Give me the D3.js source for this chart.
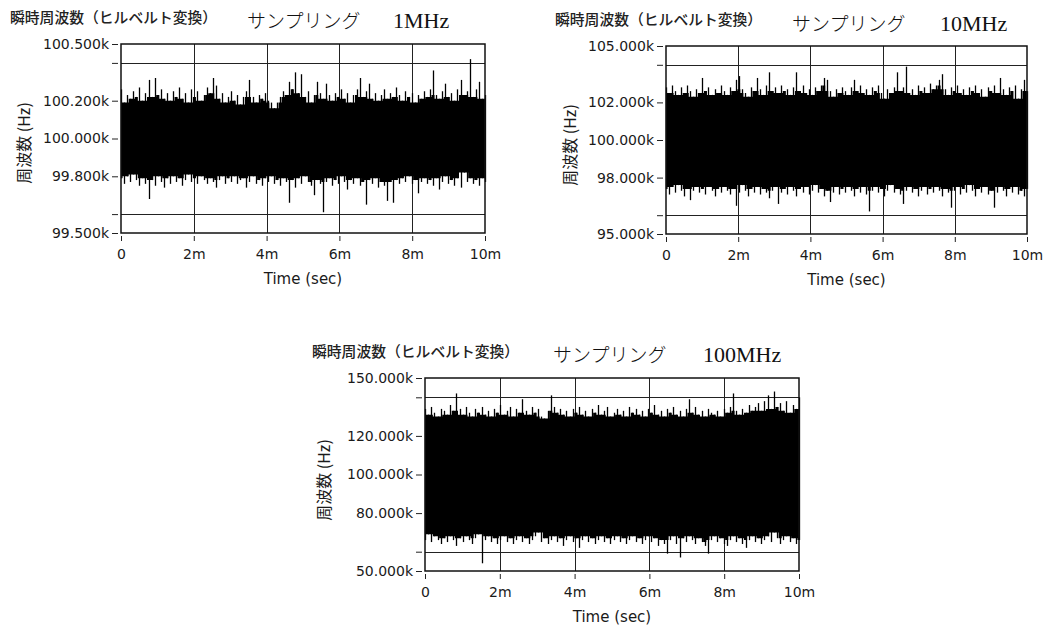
<!DOCTYPE html>
<html>
<head>
<meta charset="utf-8">
<script src="https://cdn.jsdelivr.net/npm/d3@7"></script>
<style>
  body { margin: 0; background: #fff; }
  svg { display: block; }
  .tick text { font-family: "DejaVu Sans", sans-serif; font-size: 14px; fill: #1a1a1a; }
  .tick line { stroke: #222; }
</style>
</head>
<body>
<svg id="chart" width="1046" height="635"></svg>
<script>
// time axis (ms)
const timeDomain = [0, 10];
const timeTicks = [0, 2, 4, 6, 8, 10];
const timeLabels = ["0", "2m", "4m", "6m", "8m", "10m"];
const timeGrid = [2, 4, 6, 8];

// 1MHz sampling : max / min envelope per bin (kHz)
const hi1 = [100.26,100.19,100.23,100.21,100.25,100.22,100.27,100.20,100.24,100.31,100.22,100.32,100.23,100.26,100.21,100.24,100.20,100.25,100.22,100.27,
  100.21,100.24,100.19,100.26,100.22,100.25,100.20,100.23,100.27,100.24,100.32,100.28,100.21,100.24,100.19,100.22,100.25,100.20,100.23,100.18,
  100.22,100.25,100.31,100.22,100.19,100.23,100.21,100.24,100.20,100.19,100.16,100.19,100.22,100.25,100.23,100.30,100.26,100.35,100.24,100.34,
  100.22,100.25,100.19,100.23,100.30,100.24,100.21,100.29,100.23,100.20,100.24,100.22,100.26,100.21,100.24,100.19,100.23,100.26,100.32,100.22,
  100.25,100.29,100.21,100.24,100.20,100.23,100.26,100.21,100.24,100.22,100.27,100.23,100.20,100.25,100.22,100.24,100.19,100.23,100.21,100.25,
  100.22,100.26,100.36,100.23,100.21,100.25,100.29,100.22,100.24,100.20,100.26,100.31,100.23,100.25,100.42,100.22,100.26,100.30,100.21,100.23];
const lo1 = [99.79,99.76,99.80,99.77,99.81,99.78,99.75,99.79,99.76,99.68,99.78,99.75,99.80,99.77,99.74,99.79,99.76,99.80,99.77,99.79,
  99.75,99.78,99.81,99.77,99.79,99.76,99.80,99.78,99.76,99.79,99.77,99.74,99.78,99.80,99.76,99.79,99.77,99.80,99.76,99.78,
  99.79,99.74,99.77,99.80,99.76,99.78,99.75,99.79,99.77,99.80,99.76,99.78,99.75,99.79,99.77,99.66,99.78,99.74,99.79,99.76,
  99.80,99.77,99.75,99.70,99.78,99.76,99.61,99.77,99.79,99.75,99.78,99.76,99.80,99.77,99.73,99.78,99.76,99.79,99.75,99.77,
  99.65,99.78,99.76,99.79,99.74,99.77,99.75,99.67,99.77,99.66,99.78,99.76,99.79,99.77,99.80,99.76,99.78,99.71,99.77,99.79,
  99.76,99.78,99.75,99.79,99.73,99.77,99.80,99.76,99.78,99.75,99.79,99.74,99.82,99.77,99.79,99.76,99.78,99.75,99.79,99.77];

// 10MHz sampling
const hi2 = [102.8,102.5,102.9,102.6,102.4,102.8,102.5,102.9,102.6,102.3,102.7,102.5,103.3,102.6,102.8,102.4,102.7,102.5,102.9,102.6,
  102.4,102.8,102.6,103.2,103.4,102.7,102.5,102.3,102.8,102.6,103.3,102.7,102.4,102.9,103.6,102.6,102.8,102.5,102.9,102.6,
  102.7,102.4,102.8,103.6,102.6,102.9,102.5,102.7,102.4,102.8,102.6,102.9,103.3,103.2,102.6,102.3,102.7,102.5,102.8,102.6,
  102.4,102.8,103.2,102.6,102.9,102.5,102.7,102.4,102.8,102.6,102.9,102.5,102.2,102.7,102.5,102.8,103.6,102.6,102.8,103.9,
  102.5,102.7,102.4,102.9,102.6,102.8,102.5,103.0,102.7,102.9,103.2,103.5,102.7,102.4,102.8,102.6,102.9,102.5,102.7,102.4,
  102.8,102.6,102.9,102.5,102.7,102.3,102.8,102.6,102.9,102.5,103.3,102.7,102.4,102.8,102.6,102.9,102.2,102.7,103.2,102.6];
const lo2 = [97.4,97.1,97.5,97.2,97.6,97.3,97.0,97.4,96.8,97.3,97.5,97.2,97.4,97.1,97.5,97.3,97.0,97.4,97.2,97.5,
  97.3,97.1,97.4,96.5,97.2,97.6,97.3,97.0,97.4,97.2,97.5,97.1,97.4,97.2,96.9,97.3,97.5,96.6,97.2,97.4,
  97.1,97.5,97.3,97.0,97.4,97.2,97.5,97.1,97.3,97.6,97.2,97.4,97.0,97.3,96.7,97.2,97.5,97.1,97.4,97.2,
  97.5,97.3,97.0,97.4,97.2,97.5,97.1,96.2,97.3,97.5,97.2,97.4,97.0,97.3,97.6,97.2,97.4,97.1,96.6,97.3,
  97.5,97.2,97.4,97.0,97.3,97.5,97.1,97.4,97.2,97.5,97.3,97.0,97.4,97.2,96.4,97.3,97.5,97.1,97.4,97.2,
  97.6,97.3,97.0,97.4,97.2,97.5,97.1,97.3,96.4,97.2,97.5,97.3,97.0,97.4,97.2,97.5,97.1,97.3,97.0,97.4];

// 100MHz sampling
const hi3 = [134,131,135,132,130,134,133,131,136,133,142,134,131,135,132,130,134,132,135,131,
  133,130,134,132,136,131,133,135,130,134,132,139,133,131,135,132,134,130,129,133,
  141,135,132,134,131,133,130,134,132,135,131,133,130,134,132,136,131,133,135,130,
  132,134,131,133,130,135,132,134,131,133,130,134,132,136,131,133,130,134,132,135,
  131,133,130,134,139,132,135,131,133,130,134,132,131,133,130,134,132,135,142,133,
  131,134,132,136,133,135,137,133,138,141,134,143,135,137,133,138,132,136,134,140];
const lo3 = [66,69,65,68,66,64,67,65,68,66,63,67,65,68,66,64,67,69,54,66,
  68,65,67,64,66,68,65,67,64,66,68,65,67,64,66,68,70,65,67,64,
  66,68,65,67,63,66,68,65,67,62,66,68,65,67,64,66,68,65,67,64,
  66,68,65,67,64,66,68,65,67,64,66,68,65,67,63,66,64,59,66,68,
  64,57,67,65,68,66,64,67,65,63,59,66,68,65,67,64,63,66,68,65,
  67,64,62,66,68,65,67,64,66,68,65,70,67,64,66,68,65,67,64,66];

const yDomain1 = [99.5, 100.5], yTicks1 = [99.5, 99.8, 100, 100.2, 100.5], yGrid1 = [99.6, 100.4];
const yDomain2 = [95, 105], yTicks2 = [95, 98, 100, 102, 105], yGrid2 = [96, 104];
const yDomain3 = [50, 150], yTicks3 = [50, 80, 100, 120, 150], yGrid3 = [60, 140];

const sampleNames = ["1MHz", "10MHz", "100MHz"];

// layout per panel
const panels = [
  { hi: hi1, lo: lo1, yDomain: yDomain1, yTicks: yTicks1, yGrid: yGrid1, name: sampleNames[0],
    left: 121, right: 485, top: 44, bottom: 233,
    head: { x: 10, y: 23 }, kana: { x: 247, y: 27.5 }, unit: { x: 393, y: 27.5 },
    yTitle: { x: 23, y: 143 } },
  { hi: hi2, lo: lo2, yDomain: yDomain2, yTicks: yTicks2, yGrid: yGrid2, name: sampleNames[1],
    left: 666, right: 1027, top: 46, bottom: 234,
    head: { x: 555, y: 24.5 }, kana: { x: 792, y: 30.5 }, unit: { x: 940, y: 30.5 },
    yTitle: { x: 569, y: 145 } },
  { hi: hi3, lo: lo3, yDomain: yDomain3, yTicks: yTicks3, yGrid: yGrid3, name: sampleNames[2],
    left: 425, right: 799, top: 378, bottom: 571,
    head: { x: 312, y: 356.5 }, kana: { x: 553, y: 362 }, unit: { x: 703, y: 362 },
    yTitle: { x: 323, y: 480 } },
];

const svg = d3.select("#chart");

function drawPanel(p) {
  const g = svg.append("g");
  const x = d3.scaleLinear().domain(timeDomain).range([p.left, p.right]);
  const y = d3.scaleLinear().domain(p.yDomain).range([p.bottom, p.top]);
  const n = p.hi.length;
  const t = (i) => timeDomain[0] + (timeDomain[1] - timeDomain[0]) * i / (n - 1);

  // headings
  g.append("text")
    .attr("x", p.head.x).attr("y", p.head.y)
    .style("font-family", '"Noto Sans CJK JP", sans-serif')
    .style("font-weight", 500)
    .style("font-size", "14.8px").style("fill", "#222")
    .text("瞬時周波数（ヒルベルト変換）");
  g.append("text")
    .attr("x", p.kana.x).attr("y", p.kana.y)
    .style("font-family", '"Noto Sans CJK JP", sans-serif')
    .style("font-weight", 300)
    .style("font-size", "19px").style("fill", "#111")
    .text("サンプリング");
  g.append("text")
    .attr("x", p.unit.x).attr("y", p.unit.y)
    .style("font-family", '"Liberation Serif", serif')
    .style("font-size", "22px").style("fill", "#111")
    .text(p.name);

  // grid
  g.append("g").selectAll("line").data(timeGrid).join("line")
    .attr("x1", (d) => Math.round(x(d)) + 0.5).attr("x2", (d) => Math.round(x(d)) + 0.5)
    .attr("y1", p.top).attr("y2", p.bottom)
    .attr("stroke", "#222").attr("stroke-width", 1);
  g.append("g").selectAll("line").data(p.yGrid).join("line")
    .attr("x1", p.left).attr("x2", p.right)
    .attr("y1", (d) => Math.round(y(d)) + 0.5).attr("y2", (d) => Math.round(y(d)) + 0.5)
    .attr("stroke", "#222").attr("stroke-width", 1);

  // signal: the solid core is what every neighbouring bin reaches,
  // each bin's own max/min then sticks out as a thin spike
  const coreHi = p.hi.map((d, i) => d3.min(p.hi.slice(Math.max(0, i - 1), i + 2)));
  const coreLo = p.lo.map((d, i) => d3.max(p.lo.slice(Math.max(0, i - 1), i + 2)));
  const area = d3.area()
    .x((d, i) => x(t(i)))
    .y0((d, i) => y(coreLo[i]))
    .y1((d, i) => y(coreHi[i]))
    .curve(d3.curveStep);
  g.append("path").datum(p.hi).attr("d", area).attr("fill", "#000");
  g.append("g").selectAll("line").data(p.hi).join("line")
    .attr("x1", (d, i) => Math.round(x(t(i))) + 0.5).attr("x2", (d, i) => Math.round(x(t(i))) + 0.5)
    .attr("y1", (d) => y(d)).attr("y2", (d, i) => y(p.lo[i]))
    .attr("stroke", "#000").attr("stroke-width", 1.3);

  // frame
  g.append("rect")
    .attr("x", p.left).attr("y", p.top)
    .attr("width", p.right - p.left).attr("height", p.bottom - p.top)
    .attr("fill", "none").attr("stroke", "#111").attr("stroke-width", 1.5);

  // y axis, labelled ticks and the bare ones on the grid lines
  const yAxis = g.append("g")
    .attr("transform", `translate(${p.left - 3},0)`)
    .call(d3.axisLeft(y).tickValues(p.yTicks).tickSize(6).tickPadding(3)
      .tickFormat((d) => d.toFixed(3) + "k"));
  yAxis.select(".domain").remove();
  const yAxis2 = g.append("g")
    .attr("transform", `translate(${p.left - 3},0)`)
    .call(d3.axisLeft(y).tickValues(p.yGrid).tickSize(6).tickFormat(""));
  yAxis2.select(".domain").remove();

  // x axis
  const xAxis = g.append("g")
    .attr("transform", `translate(0,${p.bottom + 3})`)
    .call(d3.axisBottom(x).tickValues(timeTicks).tickSize(5).tickPadding(8)
      .tickFormat((d, i) => timeLabels[i]));
  xAxis.select(".domain").remove();

  g.append("text")
    .attr("x", (p.left + p.right) / 2).attr("y", p.bottom + 51)
    .attr("text-anchor", "middle")
    .style("font-family", '"DejaVu Sans", sans-serif')
    .style("font-size", "15px").style("fill", "#1a1a1a")
    .text("Time (sec)");

  g.append("text")
    .attr("transform", `translate(${p.yTitle.x},${p.yTitle.y}) rotate(-90)`)
    .attr("text-anchor", "middle").attr("dominant-baseline", "central")
    .style("font-family", '"Noto Sans CJK JP", sans-serif')
    .style("font-size", "16px").style("fill", "#1a1a1a")
    .text("周波数 (Hz)");
}

panels.forEach(drawPanel);
</script>
</body>
</html>
